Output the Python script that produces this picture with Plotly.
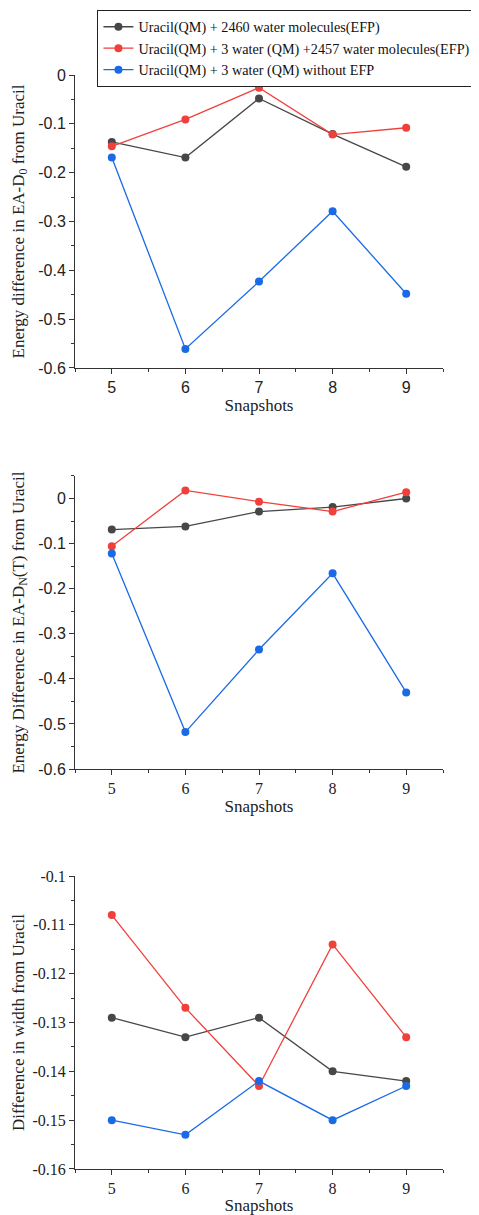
import plotly.graph_objects as go

snapshots = [5, 6, 7, 8, 9]
series_names = [
    "Uracil(QM) + 2460 water molecules(EFP)",
    "Uracil(QM) + 3 water (QM) +2457 water molecules(EFP)",
    "Uracil(QM) + 3 water (QM) without EFP",
]
colors = ["#474747", "#F0403C", "#1A6AE6"]

# Panel 1: Energy difference in EA-D0
p1_efp = [-0.137, -0.169, -0.048, -0.121, -0.188]
p1_qm3_efp = [-0.146, -0.091, -0.026, -0.122, -0.108]
p1_qm3 = [-0.169, -0.561, -0.423, -0.279, -0.448]

# Panel 2: Energy difference in EA-DN(T)
p2_efp = [-0.069, -0.062, -0.029, -0.019, 0.0]
p2_qm3_efp = [-0.106, 0.018, -0.007, -0.029, 0.014]
p2_qm3 = [-0.122, -0.518, -0.335, -0.166, -0.430]

# Panel 3: Difference in width
p3_efp = [-0.129, -0.133, -0.129, -0.140, -0.142]
p3_qm3_efp = [-0.108, -0.127, -0.143, -0.114, -0.133]
p3_qm3 = [-0.150, -0.153, -0.142, -0.150, -0.143]

# Tick labels (hyphen minus as in the original)
y1_ticks = [0, -0.1, -0.2, -0.3, -0.4, -0.5, -0.6]
y1_labels = ["0", "-0.1", "-0.2", "-0.3", "-0.4", "-0.5", "-0.6"]
y2_ticks = [0, -0.1, -0.2, -0.3, -0.4, -0.5, -0.6]
y2_labels = ["0", "-0.1", "-0.2", "-0.3", "-0.4", "-0.5", "-0.6"]
y3_ticks = [-0.1, -0.11, -0.12, -0.13, -0.14, -0.15, -0.16]
y3_labels = ["-0.1", "-0.11", "-0.12", "-0.13", "-0.14", "-0.15", "-0.16"]

panels = [
    (p1_efp, p1_qm3_efp, p1_qm3),
    (p2_efp, p2_qm3_efp, p2_qm3),
    (p3_efp, p3_qm3_efp, p3_qm3),
]

SERIF = "Liberation Serif, Times New Roman, serif"
SANS = "Liberation Sans, Arial, sans-serif"

fig = go.Figure()
for i, vals in enumerate(panels):
    xa = "x" if i == 0 else f"x{i+1}"
    ya = "y" if i == 0 else f"y{i+1}"
    for j, v in enumerate(vals):
        fig.add_trace(go.Scatter(
            x=snapshots, y=v, mode="lines+markers",
            name=series_names[j], showlegend=(i == 0),
            line=dict(color=colors[j], width=1.3),
            marker=dict(color=colors[j], size=8),
            xaxis=xa, yaxis=ya,
        ))

domains = [[0.7322, 1.0], [0.3656, 0.6335], [0.0, 0.2678]]
yranges = [[-0.6, 0.0], [-0.6, 0.05], [-0.16, -0.1]]
ytickvals = [y1_ticks, y2_ticks, y3_ticks]
yticktext = [y1_labels, y2_labels, y3_labels]
yminor = [0.05, 0.05, 0.005]
ytitles = [
    "Energy difference in EA-D<sub>0</sub> from Uracil",
    "Energy Difference in EA-D<sub>N</sub>(T) from Uracil",
    "Difference in width from Uracil",
]
ytickfonts = [SANS, SANS, SERIF]
xtickfonts = [SANS, SERIF, SERIF]
ytitle_standoff = [9, 9, 3]

axis_common = dict(
    showline=True, linecolor="#333333", linewidth=1,
    ticks="outside", ticklen=5, tickcolor="#333333", tickwidth=1,
    showgrid=False, zeroline=False,
)

for i in range(3):
    xkey = "xaxis" if i == 0 else f"xaxis{i+1}"
    ykey = "yaxis" if i == 0 else f"yaxis{i+1}"
    ya = "y" if i == 0 else f"y{i+1}"
    xa = "x" if i == 0 else f"x{i+1}"
    fig.layout[xkey] = dict(
        axis_common, domain=[0, 1], anchor=ya, range=[4.5, 9.5],
        tickmode="array", tickvals=snapshots, ticktext=[str(s) for s in snapshots],
        tickfont=dict(family=xtickfonts[i], size=16, color="#222"),
        minor=dict(dtick=0.5, tick0=4.5, ticks="outside", ticklen=3,
                   tickcolor="#333333", showgrid=False),
        title=dict(text="Snapshots", standoff=1,
                   font=dict(family=SERIF, size=17, color="#222")),
        automargin=False,
    )
    fig.layout[ykey] = dict(
        axis_common, domain=domains[i], anchor=xa, range=yranges[i],
        tickmode="array", tickvals=ytickvals[i], ticktext=yticktext[i],
        tickfont=dict(family=ytickfonts[i], size=16, color="#222"),
        minor=dict(dtick=yminor[i], tick0=0, ticks="outside", ticklen=3,
                   tickcolor="#333333", showgrid=False),
        title=dict(text=ytitles[i], standoff=ytitle_standoff[i],
                   font=dict(family=SERIF, size=17, color="#222")),
        automargin=False,
    )

# The page places the figure 8px in from the top-left corner,
# so the figure is sized to end exactly at the window edges.
fig.update_layout(
    width=471, height=1207,
    margin=dict(l=67, r=36, t=67, b=46, autoexpand=False),
    plot_bgcolor="white", paper_bgcolor="white",
    legend=dict(
        x=0.061, y=1.0594, xanchor="left", yanchor="top",
        bgcolor="white", bordercolor="#222", borderwidth=1,
        font=dict(family=SERIF, size=14.2, color="#111"),
        tracegroupgap=0, itemwidth=30,
    ),
)

fig.write_html("out.html")
